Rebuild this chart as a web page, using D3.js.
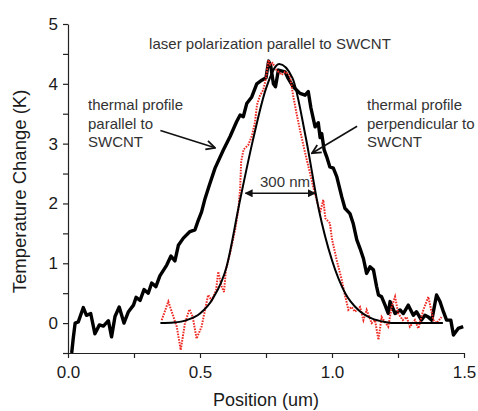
<!DOCTYPE html>
<html>
<head>
<meta charset="utf-8">
<script src="https://cdn.jsdelivr.net/npm/d3@7"></script>
<style>
  body { margin: 0; background: #fff; }
  svg { display: block; font-family: "Liberation Sans", Arial, sans-serif; }
</style>
</head>
<body>
<svg id="chart" width="478" height="411"></svg>
<script>
// thermal profile parallel to SWCNT (black data)
const parX = [0.014,0.020,0.027,0.039,0.058,0.070,0.086,0.102,0.119,0.134,
  0.153,0.165,0.178,0.194,0.212,0.229,0.248,0.258,0.273,0.288,
  0.304,0.317,0.333,0.348,0.374,0.390,0.405,0.418,0.437,0.462,
  0.481,0.492,0.506,0.519,0.535,0.557,0.588,0.614,0.639,0.652,
  0.664,0.677,0.696,0.715,0.734,0.750,0.760,0.768,0.778,0.786,
  0.797,0.822,0.834,0.853,0.879,0.898,0.910,0.920,0.936,0.948,
  0.955,0.961,0.970,0.980,0.992,1.005,1.018,1.037,1.049,1.068,
  1.080,1.094,1.106,1.119,1.131,1.144,1.157,1.169,1.176,1.188,
  1.201,1.213,1.220,1.239,1.258,1.270,1.289,1.308,1.320,1.339,
  1.352,1.365,1.378,1.396,1.409,1.422,1.434,1.450,1.460,1.478,1.497];
const parY = [-0.50,-0.25,0.00,0.02,0.26,0.13,0.16,-0.18,-0.03,-0.05,
  0.04,-0.23,0.11,0.27,0.00,0.19,0.30,0.43,0.38,0.56,
  0.50,0.67,0.61,0.79,0.97,1.12,1.04,1.30,1.42,1.53,
  1.56,1.70,1.86,2.08,2.30,2.59,2.89,3.12,3.37,3.48,
  3.45,3.67,3.78,4.00,4.06,4.10,4.38,4.30,4.00,3.95,
  4.23,4.20,4.09,3.95,3.84,3.81,3.87,3.60,3.28,3.35,
  3.10,3.17,2.90,2.78,2.61,2.59,2.45,2.11,1.92,1.83,
  1.67,1.39,1.25,1.08,0.83,0.94,0.89,0.61,0.47,0.44,
  0.30,0.16,0.36,0.16,0.22,0.16,0.30,0.13,0.19,0.05,
  0.13,0.10,0.05,0.47,0.36,0.19,0.05,0.05,-0.20,-0.09,-0.06];

// thermal profile perpendicular to SWCNT (red data)
const perpX = [0.355,0.380,0.399,0.412,0.427,0.443,0.460,0.472,0.487,0.506,
  0.519,0.531,0.544,0.561,0.569,0.582,0.591,0.598,0.614,0.633,
  0.645,0.652,0.656,0.665,0.683,0.696,0.708,0.716,0.727,0.740,
  0.750,0.759,0.766,0.775,0.790,0.809,0.822,0.840,0.853,0.866,
  0.879,0.898,0.917,0.936,0.955,0.967,0.975,0.992,1.000,1.018,
  1.037,1.050,1.062,1.074,1.087,1.106,1.119,1.131,1.150,1.163,
  1.176,1.188,1.200,1.213,1.226,1.239,1.251,1.268,1.283,1.295,
  1.314,1.327,1.346,1.365,1.384,1.396,1.415];
const perpY = [0.05,0.36,0.11,-0.06,-0.45,0.00,0.23,0.11,-0.26,-0.06,
  0.22,0.47,0.38,0.55,0.86,0.61,0.52,0.89,1.17,1.56,
  1.89,2.25,2.70,2.90,2.98,3.12,3.35,3.65,3.80,3.90,
  4.10,4.40,4.32,4.35,4.23,4.15,4.20,4.15,3.80,3.50,
  3.22,2.85,2.50,2.15,1.85,2.06,1.75,1.67,1.40,1.05,
  0.72,0.45,0.22,0.27,0.19,0.27,0.05,0.22,0.00,0.05,
  -0.28,0.10,0.02,-0.06,0.27,0.44,0.16,0.05,0.10,-0.06,
  0.05,-0.09,0.22,0.44,0.05,0.00,0.10];

// fitted curve
const fitX = [0.35,0.40,0.45,0.50,0.55,0.60,0.65,0.70,0.75,0.80,0.85,0.90,0.95,1.00,1.05,1.10,1.15,1.20,1.25,1.30,1.35,1.42];
const fitY = [0.00,0.01,0.05,0.16,0.42,0.93,2.02,3.05,3.92,4.33,4.10,3.12,1.90,1.05,0.50,0.22,0.08,0.02,0.00,0.00,0.00,0.00];

const xTicks = [0, 0.25, 0.5, 0.75, 1.0, 1.25, 1.5];
const xLabels = ["0.0", "", "0.5", "", "1.0", "", "1.5"];
const yTicks = [-0.5, 0, 0.5, 1, 1.5, 2, 2.5, 3, 3.5, 4, 4.5, 5];

const svg = d3.select("#chart");
const x = d3.scaleLinear().domain([0, 1.5]).range([68, 464]);
const y = d3.scaleLinear().domain([-0.5, 5]).range([353, 24]);

const defs = svg.append("defs");
defs.append("marker").attr("id", "vhead")
  .attr("viewBox", "0 0 10 10").attr("refX", 9).attr("refY", 5)
  .attr("markerWidth", 11).attr("markerHeight", 11).attr("markerUnits", "userSpaceOnUse")
  .attr("orient", "auto")
  .append("path").attr("d", "M1,1 L9,5 L1,9").attr("fill", "none")
  .attr("stroke", "#111").attr("stroke-width", 1.6);
defs.append("marker").attr("id", "tri")
  .attr("viewBox", "0 0 10 10").attr("refX", 9).attr("refY", 5)
  .attr("markerWidth", 8).attr("markerHeight", 8).attr("markerUnits", "userSpaceOnUse")
  .attr("orient", "auto-start-reverse")
  .append("path").attr("d", "M0,0 L10,5 L0,10 Z").attr("fill", "#111");

// axes
const xAxis = d3.axisBottom(x).tickValues(xTicks).tickSize(5).tickSizeOuter(0)
  .tickFormat((d, i) => xLabels[i]);
const yAxis = d3.axisLeft(y).tickValues(yTicks).tickSize(5).tickSizeOuter(0)
  .tickFormat(d => Number.isInteger(d) ? d : "");

const gx = svg.append("g").attr("transform", `translate(0,${y(-0.5)})`).call(xAxis);
const gy = svg.append("g").attr("transform", `translate(${x(0)},0)`).call(yAxis);
[gx, gy].forEach(g => {
  g.select(".domain").attr("stroke", "#222").attr("stroke-width", 1.2);
  g.selectAll(".tick line").attr("stroke", "#222").attr("stroke-width", 1.2);
  g.selectAll(".tick text").attr("fill", "#1a1a1a").attr("font-size", 17)
    .attr("font-family", "Liberation Sans, Arial, sans-serif");
});
gx.selectAll(".tick text").attr("y", 13);
gy.selectAll(".tick text").attr("x", -10);

svg.append("text").attr("x", x(0.75)).attr("y", 406).attr("text-anchor", "middle")
  .attr("font-size", 18).attr("fill", "#1a1a1a").text("Position (um)");
svg.append("text").attr("transform", `translate(26,${y(2.2)}) rotate(-90)`)
  .attr("text-anchor", "middle").attr("font-size", 18.5).attr("fill", "#1a1a1a")
  .text("Temperature Change (K)");

const line = (xs, ys, curve) => d3.line()
  .x((d, i) => x(xs[i])).y((d, i) => y(ys[i])).curve(curve)(xs);

// black data
svg.append("path").attr("d", line(parX, parY, d3.curveLinear))
  .attr("fill", "none").attr("stroke", "#000").attr("stroke-width", 3.4)
  .attr("stroke-linejoin", "round");

// red data
svg.append("path").attr("d", line(perpX, perpY, d3.curveLinear))
  .attr("fill", "none").attr("stroke", "#ee2a24").attr("stroke-width", 2)
  .attr("stroke-dasharray", "1.6 1.2");

// fit
svg.append("path").attr("d", line(fitX, fitY, d3.curveMonotoneX))
  .attr("fill", "none").attr("stroke", "#000").attr("stroke-width", 2);

// annotations
const ann = svg.append("g").attr("fill", "#333").attr("font-size", 15);
ann.append("text").attr("x", 270).attr("y", 49).attr("text-anchor", "middle")
  .text("laser polarization parallel to SWCNT");
["thermal profile", "parallel to", "SWCNT"].forEach((t, i) =>
  ann.append("text").attr("x", 88).attr("y", 110 + i * 18.5).text(t));
["thermal profile", "perpendicular to", "SWCNT"].forEach((t, i) =>
  ann.append("text").attr("x", 367).attr("y", 110 + i * 18.5).text(t));
ann.append("text").attr("x", 285).attr("y", 187).attr("text-anchor", "middle").text("300 nm");

svg.append("line").attr("x1", x(0.35)).attr("y1", y(3.22)).attr("x2", x(0.557)).attr("y2", y(2.93))
  .attr("stroke", "#111").attr("stroke-width", 1.6).attr("marker-end", "url(#vhead)");
svg.append("line").attr("x1", x(1.095)).attr("y1", y(3.29)).attr("x2", x(0.924)).attr("y2", y(2.84))
  .attr("stroke", "#111").attr("stroke-width", 1.6).attr("marker-end", "url(#vhead)");
svg.append("line").attr("x1", x(0.672)).attr("y1", y(2.17)).attr("x2", x(0.936)).attr("y2", y(2.17))
  .attr("stroke", "#111").attr("stroke-width", 1.6)
  .attr("marker-start", "url(#tri)").attr("marker-end", "url(#tri)");
</script>
</body>
</html>
